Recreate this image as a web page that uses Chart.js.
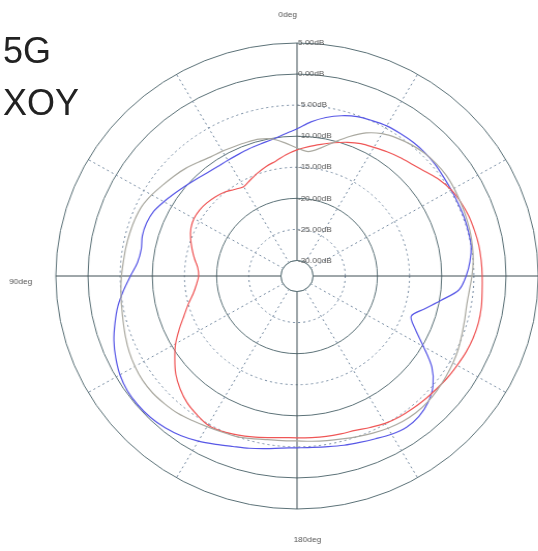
<!DOCTYPE html>
<html>
<head>
<meta charset="utf-8">
<script src="https://cdn.jsdelivr.net/npm/chart.js@4.4.1/dist/chart.umd.min.js"></script>
<style>
  html, body { margin: 0; padding: 0; background: #fff; overflow: hidden; }
  #wrap { position: absolute; left: 0; top: 0; width: 538px; height: 551px; transform: scaleX(1.035); transform-origin: 297px 0; }
  .title { position: absolute; left: 3px; font-family: "Liberation Sans", Arial, sans-serif; font-size: 36px; line-height: 36px; color: #222; }
</style>
</head>
<body>
<div id="wrap"><canvas id="polar"></canvas></div>
<div class="title" style="top:33px">5G</div>
<div class="title" style="top:85px">XOY</div>
<script>
// angles in degrees, counter-clockwise from 0deg at the top
const angles = [0, 5, 10, 15, 20, 25, 30, 35, 40, 45, 50, 55, 60, 65, 70, 75, 80, 85,
  90, 95, 100, 105, 110, 115, 120, 125, 130, 135, 140, 145, 150, 155, 160, 165, 170, 175,
  180, 185, 190, 195, 200, 205, 210, 215, 220, 225, 230, 235, 240, 245, 250, 255, 260, 265,
  270, 275, 280, 285, 290, 295, 300, 305, 310, 315, 320, 325, 330, 335, 340, 345, 350, 355];

// gain in dB
const blueGain = [-8.8, -9.6, -10.2, -10.5, -10.7, -10.9, -11.0, -11.0, -10.8, -10.4, -9.9, -9.3, -8.6, -7.9, -7.6, -7.6, -7.9, -7.6,
  -6.6, -5.4, -4.2, -3.2, -2.2, -1.4, -0.7, -0.3, -0.2, -0.3, -0.6, -1.1, -1.8, -2.6, -3.3, -3.8, -4.3, -4.7,
  -4.85, -4.8, -4.6, -4.3, -4.0, -3.6, -3.1, -2.8, -3.0, -3.7, -4.9, -6.9, -9.8, -12.2, -13.6, -12.0, -9.8, -7.2,
  -6.2, -5.5, -5.0, -4.9, -4.85, -4.85, -4.8, -4.7, -4.5, -4.4, -4.4, -4.5, -4.6, -4.9, -5.2, -5.8, -6.6, -7.6];

const redGain = [-12.2, -12.9, -13.7, -14.2, -14.8, -15.4, -15.9, -15.5, -14.9, -14.5, -14.2, -14.0, -14.0, -14.3, -14.9, -15.6, -16.3, -17.0,
  -17.2, -16.8, -16.1, -15.0, -13.8, -12.3, -10.7, -9.3, -7.9, -6.8, -5.9, -5.3, -4.8, -4.9, -5.3, -5.7, -6.1, -6.4,
  -6.45, -6.4, -6.3, -6.2, -6.05, -5.6, -5.1, -4.8, -4.6, -4.4, -4.2, -3.95, -3.75, -3.5, -3.35, -3.3, -3.4, -3.6,
  -3.7, -3.75, -3.8, -3.95, -4.1, -4.4, -4.8, -5.5, -6.4, -7.1, -7.6, -8.1, -8.6, -9.0, -9.6, -10.3, -11.0, -11.6];

const grayGain = [-11.9, -11.0, -10.1, -9.7, -9.6, -9.5, -9.3, -9.1, -8.6, -8.0, -7.5, -7.0, -6.4, -5.9, -5.7, -5.6, -5.5, -5.4,
  -5.2, -5.0, -4.8, -4.5, -4.1, -3.7, -3.4, -3.2, -3.2, -3.4, -3.65, -4.1, -4.5, -4.8, -5.0, -5.4, -5.75, -5.9,
  -5.95, -5.8, -5.6, -5.35, -5.0, -4.6, -4.2, -3.9, -3.75, -3.8, -4.0, -4.25, -4.5, -4.8, -5.2, -5.5, -5.7, -5.6,
  -5.3, -5.0, -4.8, -4.65, -4.55, -4.45, -4.3, -4.2, -4.3, -4.5, -4.9, -5.4, -6.05, -7.1, -8.6, -10.2, -11.6, -12.4];

const dbTicks = [5, 0, -5, -10, -15, -20, -25, -30];
const axisLabels = ['0deg', '90deg', '180deg'];

// radar goes clockwise, the plot goes counter-clockwise
const cw = arr => arr.map((_, i) => arr[(arr.length - i) % arr.length]);

const solidRing = '#5b7177';
const dotRing = '#7489a0';
const isSolid = v => v % 10 === 0 || v === 5;

const labelsPlugin = {
  id: 'labels',
  beforeDatasetsDraw(chart) {
    const s = chart.scales.r;
    const ctx = chart.ctx;
    const r = s.getDistanceFromCenterForValue(-30);
    ctx.save();
    ctx.beginPath();
    ctx.arc(s.xCenter, s.yCenter, r, 0, Math.PI * 2);
    ctx.fillStyle = '#fff';
    ctx.fill();
    ctx.strokeStyle = solidRing;
    ctx.lineWidth = 1;
    ctx.stroke();
    ctx.restore();
  },
  afterDraw(chart) {
    const s = chart.scales.r;
    const ctx = chart.ctx;
    ctx.save();
    ctx.font = '8px "Liberation Sans", Arial, sans-serif';
    ctx.fillStyle = '#555';
    ctx.textBaseline = 'middle';
    ctx.textAlign = 'left';
    dbTicks.forEach(v => {
      const d = s.getDistanceFromCenterForValue(v);
      ctx.fillText(v.toFixed(2) + 'dB', s.xCenter + 1, s.yCenter - d);
    });
    const R = s.drawingArea;
    ctx.textAlign = 'center';
    ctx.fillText(axisLabels[0], s.xCenter - 9, s.yCenter - R - 28);
    ctx.fillText(axisLabels[1], s.xCenter - R - 34, s.yCenter + 6);
    ctx.fillText(axisLabels[2], s.xCenter + 10, s.yCenter + R + 31);
    ctx.restore();
  }
};

new Chart(document.getElementById('polar'), {
  type: 'radar',
  data: {
    labels: cw(angles).map(a => a + 'deg'),
    datasets: [
      { label: 'gray', data: cw(grayGain), borderColor: '#aaa9a0' },
      { label: 'red', data: cw(redGain), borderColor: '#ef5656' },
      { label: 'blue', data: cw(blueGain), borderColor: '#5757e6' },
    ],
  },
  options: {
    responsive: true,
    maintainAspectRatio: false,
    animation: false,
    layout: { padding: { left: 64, right: 8, top: 43, bottom: 42 } },
    plugins: { legend: { display: false }, tooltip: { enabled: false } },
    elements: {
      point: { radius: 0 },
      line: { borderWidth: 1.2, tension: 0.3, fill: false },
    },
    scales: {
      r: {
        min: -32.5,
        max: 5,
        afterBuildTicks: s => { s.ticks = dbTicks.slice().reverse().map(v => ({ value: v })); },
        ticks: { display: false },
        pointLabels: { display: false },
        grid: {
          circular: true,
          lineWidth: 1,
          color: c => isSolid(c.tick.value) ? solidRing : dotRing,
        },
        border: { dash: c => isSolid(c.tick.value) ? [] : [2, 3] },
        angleLines: {
          color: c => (c.index * 5) % 90 === 0 ? '#3f4f55' : dotRing,
          lineWidth: c => (c.index * 5) % 30 === 0 ? 1 : 0,
          borderDash: c => (c.index * 5) % 90 === 0 ? [] : [2, 3],
        },
      },
    },
  },
  plugins: [labelsPlugin],
});
</script>
</body>
</html>
